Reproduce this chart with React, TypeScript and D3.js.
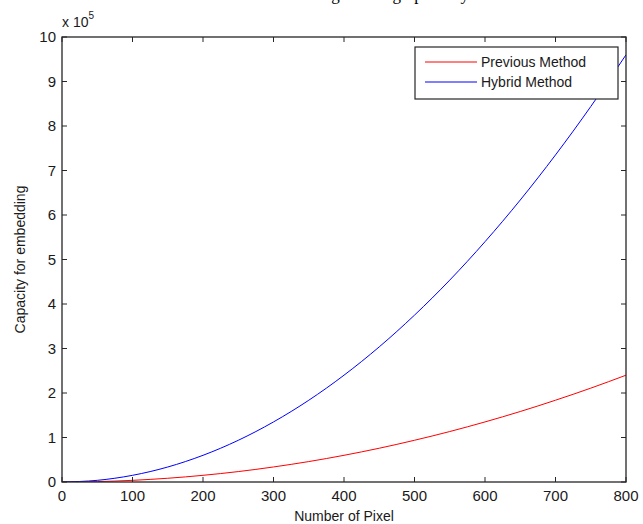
import React, { useRef, useEffect } from 'react';
import * as d3 from 'd3';

const pixels = [0, 50, 100, 150, 200, 250, 300, 350, 400, 450, 500, 550, 600, 650, 700, 750, 800];
const previousMethod = [0, 900, 3750, 8400, 15000, 23400, 33800, 45900, 60000, 75900, 93800, 113400, 135000, 158400, 183800, 210900, 240000];
const hybridMethod = [0, 3750, 15000, 33700, 60000, 93700, 135000, 183700, 240000, 303700, 375000, 453700, 540000, 633700, 735000, 843700, 960000];
const xTicks = [0, 100, 200, 300, 400, 500, 600, 700, 800];
const yTicks = [0, 1, 2, 3, 4, 5, 6, 7, 8, 9, 10];
const seriesNames = ['Previous Method', 'Hybrid Method'];
const seriesColors = ['#ff0000', '#0000ff'];

const width = 643;
const height = 524;
const margin = { left: 62, right: 17, top: 37, bottom: 42 };
const font = 'Arial, "Liberation Sans", Helvetica, sans-serif';

const App = () => {
  const svgRef = useRef(null);

  useEffect(() => {
    const svg = d3.select(svgRef.current);
    svg.selectAll('*').remove();

    const x = d3.scaleLinear().domain([0, 800]).range([margin.left, width - margin.right]);
    const y = d3.scaleLinear().domain([0, 10]).range([height - margin.bottom, margin.top]);
    const axisColor = '#262626';
    const tick = 5;

    // caption of the page above, clipped by the image edge
    svg.append('text')
      .attr('x', 318)
      .attr('y', 0)
      .attr('font-family', '"Liberation Serif", "Times New Roman", serif')
      .attr('font-size', 17)
      .text('ing shown graphically');

    const plot = svg.append('g');
    const clipId = 'plot-clip';
    svg.append('clipPath').attr('id', clipId)
      .append('rect')
        .attr('x', margin.left)
        .attr('y', margin.top)
        .attr('width', width - margin.left - margin.right)
        .attr('height', height - margin.top - margin.bottom);

    const line = d3.line()
      .x((d) => x(d[0]))
      .y((d) => y(d[1] / 1e5))
      .curve(d3.curveMonotoneX);

    [previousMethod, hybridMethod].forEach((vals, i) => {
      plot.append('path')
        .datum(pixels.map((p, j) => [p, vals[j]]))
        .attr('clip-path', `url(#${clipId})`)
        .attr('fill', 'none')
        .attr('stroke', seriesColors[i])
        .attr('stroke-width', 1)
        .attr('d', line);
    });

    // frame
    svg.append('rect')
      .attr('x', x(0))
      .attr('y', y(10))
      .attr('width', x(800) - x(0))
      .attr('height', y(0) - y(10))
      .attr('fill', 'none')
      .attr('stroke', axisColor)
      .attr('stroke-width', 1.3);

    // ticks on all four sides, pointing in
    xTicks.forEach((t) => {
      svg.append('line')
        .attr('x1', x(t)).attr('x2', x(t))
        .attr('y1', y(0)).attr('y2', y(0) - tick)
        .attr('stroke', axisColor);
      svg.append('line')
        .attr('x1', x(t)).attr('x2', x(t))
        .attr('y1', y(10)).attr('y2', y(10) + tick)
        .attr('stroke', axisColor);
      svg.append('text')
        .attr('x', x(t))
        .attr('y', y(0) + 19)
        .attr('text-anchor', 'middle')
        .attr('font-family', font)
        .attr('font-size', 15)
        .attr('fill', '#1a1a1a')
        .text(t);
    });

    yTicks.forEach((t) => {
      svg.append('line')
        .attr('x1', x(0)).attr('x2', x(0) + tick)
        .attr('y1', y(t)).attr('y2', y(t))
        .attr('stroke', axisColor);
      svg.append('line')
        .attr('x1', x(800)).attr('x2', x(800) - tick)
        .attr('y1', y(t)).attr('y2', y(t))
        .attr('stroke', axisColor);
      svg.append('text')
        .attr('x', x(0) - 6)
        .attr('y', y(t) + 5)
        .attr('text-anchor', 'end')
        .attr('font-family', font)
        .attr('font-size', 15)
        .attr('fill', '#1a1a1a')
        .text(t);
    });

    // exponent
    const expo = svg.append('text')
      .attr('x', x(0))
      .attr('y', 27)
      .attr('font-family', font)
      .attr('font-size', 14)
      .attr('fill', '#1a1a1a');
    expo.append('tspan').text('x 10');
    expo.append('tspan').attr('dy', -8).attr('font-size', 10).text('5');

    // axis labels
    svg.append('text')
      .attr('x', (x(0) + x(800)) / 2)
      .attr('y', 521)
      .attr('text-anchor', 'middle')
      .attr('font-family', font)
      .attr('font-size', 14)
      .attr('fill', '#1a1a1a')
      .text('Number of Pixel');

    svg.append('text')
      .attr('transform', `translate(25, ${(y(0) + y(10)) / 2}) rotate(-90)`)
      .attr('text-anchor', 'middle')
      .attr('font-family', font)
      .attr('font-size', 14)
      .attr('fill', '#1a1a1a')
      .text('Capacity for embedding');

    // legend
    const legend = svg.append('g');
    legend.append('rect')
      .attr('x', 415).attr('y', 47)
      .attr('width', 203).attr('height', 52)
      .attr('fill', 'white')
      .attr('stroke', axisColor)
      .attr('stroke-width', 1.2);
    seriesNames.forEach((name, i) => {
      const ly = 62 + i * 20;
      legend.append('line')
        .attr('x1', 425).attr('x2', 477)
        .attr('y1', ly).attr('y2', ly)
        .attr('stroke', seriesColors[i]);
      legend.append('text')
        .attr('x', 481)
        .attr('y', ly + 5)
        .attr('font-family', font)
        .attr('font-size', 14)
        .attr('fill', '#1a1a1a')
        .text(name);
    });
  }, []);

  return (
    <svg
      ref={svgRef}
      width={width}
      height={height}
      style={{ position: 'absolute', left: 0, top: 0, background: 'white' }}
    />
  );
};

export default App;
